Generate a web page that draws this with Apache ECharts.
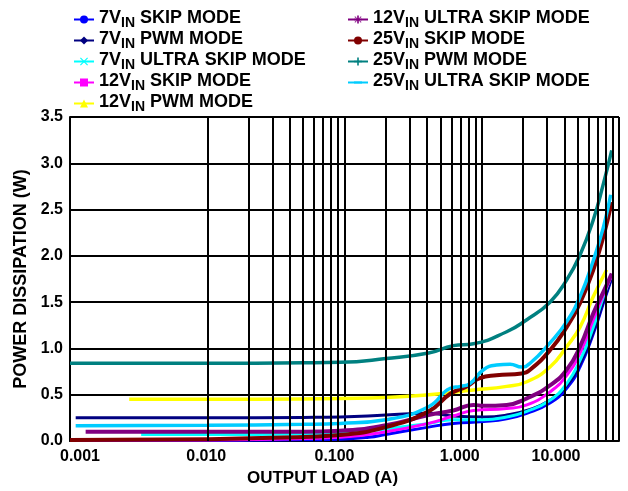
<!DOCTYPE html>
<html>
<head>
<meta charset="utf-8">
<script src="https://cdn.jsdelivr.net/npm/echarts@6/dist/echarts.min.js"></script>
<style>
  html, body { margin: 0; padding: 0; background: #fff; }
  #chart { width: 628px; height: 491px; }
</style>
</head>
<body>
<div id="chart"></div>
<script>
// series names (legend order)
const names = [
  '7VIN SKIP MODE', '7VIN PWM MODE', '7VIN ULTRA SKIP MODE',
  '12VIN SKIP MODE', '12VIN PWM MODE', '12VIN ULTRA SKIP MODE',
  '25VIN SKIP MODE', '25VIN PWM MODE', '25VIN ULTRA SKIP MODE'
];

// [load A, power W]
const skip7 = [[0.001,0.005],[0.01,0.008],[0.03,0.012],[0.093,0.02],[0.15,0.04],[0.2,0.07],[0.41,0.15],[0.62,0.19],[1.03,0.21],[1.52,0.24],[2.13,0.30],[3.14,0.41],[4.16,0.57],[5.2,0.80],[6.5,1.16],[7.7,1.49],[8.85,1.76]];
const pwm7 = [[0.0011,0.25],[0.01,0.25],[0.05,0.255],[0.093,0.26],[0.2,0.28],[0.41,0.30],[0.62,0.27],[1.03,0.26],[1.52,0.28],[2.13,0.33],[3.14,0.44],[4.16,0.60],[5.2,0.83],[6.5,1.18],[7.7,1.51],[8.85,1.77]];
const ultra7 = [[0.0033,0.07],[0.01,0.07],[0.05,0.075],[0.093,0.085],[0.2,0.13],[0.41,0.19],[0.62,0.23],[1.03,0.23],[1.52,0.26],[2.13,0.32],[3.14,0.44],[4.16,0.62],[5.2,0.87],[6.5,1.23],[7.7,1.56],[8.7,1.77]];
const skip12 = [[0.001,0.01],[0.01,0.012],[0.03,0.02],[0.093,0.04],[0.2,0.10],[0.41,0.19],[0.62,0.27],[0.87,0.33],[1.52,0.35],[2.13,0.39],[3.14,0.53],[4.16,0.71],[5.2,0.95],[6.5,1.31],[7.7,1.58],[8.85,1.79]];
const pwm12 = [[0.0027,0.45],[0.01,0.45],[0.05,0.455],[0.093,0.46],[0.2,0.47],[0.41,0.50],[0.87,0.55],[1.52,0.59],[2.13,0.64],[3.14,0.80],[4.16,1.02],[5.2,1.23],[6.5,1.56],[8.13,1.85]];
const ultra12 = [[0.0013,0.10],[0.01,0.10],[0.05,0.10],[0.093,0.11],[0.2,0.17],[0.41,0.28],[0.62,0.33],[0.87,0.39],[1.03,0.38],[1.52,0.39],[2.13,0.46],[3.14,0.60],[4.16,0.77],[5.2,1.02],[6.5,1.38],[7.7,1.61],[8.85,1.81]];
const skip25 = [[0.001,0.01],[0.01,0.02],[0.03,0.035],[0.093,0.065],[0.2,0.15],[0.41,0.32],[0.59,0.51],[0.78,0.59],[0.97,0.68],[1.28,0.71],[1.95,0.73],[2.25,0.77],[3.14,0.98],[4.16,1.23],[5.2,1.49],[6.5,1.85],[7.7,2.21],[8.85,2.58]];
const pwm25 = [[0.001,0.84],[0.01,0.84],[0.05,0.845],[0.093,0.85],[0.2,0.89],[0.41,0.95],[0.62,1.03],[0.87,1.05],[1.52,1.18],[2.13,1.31],[3.14,1.50],[4.16,1.74],[5.2,2.01],[6.5,2.39],[7.7,2.78],[8.85,3.14]];
const ultra25 = [[0.0011,0.165],[0.01,0.17],[0.05,0.18],[0.093,0.19],[0.2,0.23],[0.41,0.37],[0.59,0.57],[0.7,0.59],[0.82,0.62],[1.03,0.77],[1.28,0.82],[1.61,0.83],[1.95,0.80],[2.25,0.84],[3.14,1.06],[4.16,1.29],[5.2,1.56],[6.5,1.95],[7.7,2.31],[8.7,2.66]];

const seriesData = [skip7, pwm7, ultra7, skip12, pwm12, ultra12, skip25, pwm25, ultra25];

// minor log grid lines
const decades = [0.001, 0.01, 0.1, 1];
const minorSteps = [2, 3, 4, 5, 6, 7, 8, 9];

const colors = ['#0000ff', '#000080', '#00ffff', '#ff00ff', '#ffff00', '#800080', '#800000', '#008080', '#00ccff'];
const widths = [3, 3, 3, 3, 3.5, 4, 4, 3.5, 3.5];
const symbols = [
  'circle',
  'diamond',
  'path://M1,0L5,4L9,0L10,1L6,5L10,9L9,10L5,6L1,10L0,9L4,5L0,1Z',
  'rect',
  'triangle',
  'path://M4,0H6V3.6L8.6,1L9.4,1.8L6.4,4H10V6H6.4L9.4,8.2L8.6,9L6,6.4V10H4V6.4L1.4,9L0.6,8.2L3.6,6H0V4H3.6L0.6,1.8L1.4,1L4,3.6Z',
  'circle',
  'path://M4,0H6V4H10V6H6V10H4V6H0V4H4Z',
  'path://M0,0L0.01,0L0,0.01Z M0,3.8H10V6.2H0Z M10,10L9.99,10L10,9.99Z'
];

const font = '"Liberation Sans", Arial, sans-serif';
const labelShift = [10, -1, -10, -22, -63];

const tickRich = {};
labelShift.forEach((s, i) => {
  tickRich['t' + i] = {
    fontSize: 16, fontWeight: 'bold', fontFamily: font, color: '#000',
    padding: s > 0 ? [0, 0, 0, 2 * s] : [0, -2 * s, 0, 0]
  };
});

const legendText = {
  rich: {
    m: { fontSize: 18, fontWeight: 'bold', fontFamily: font, color: '#000', lineHeight: 15, verticalAlign: 'top' },
    s: { fontSize: 14, fontWeight: 'bold', fontFamily: font, color: '#000', lineHeight: 13, verticalAlign: 'bottom' },
    h: { fontSize: 18, fontFamily: font, lineHeight: 21 }
  }
};
const legendFormat = name => {
  const parts = name.split(' ');
  return '{m|' + parts[0].replace('VIN', 'V') + '}{s|IN}{m| ' + parts.slice(1).join(' ') + '}{h| }';
};
const legendBase = {
  orient: 'vertical', top: 9, padding: 0, itemGap: 0,
  itemWidth: 20, itemHeight: 10, selectedMode: false,
  formatter: legendFormat, textStyle: legendText
};

const chart = echarts.init(document.getElementById('chart'));

const series = names.map((n, i) => ({
  name: n,
  type: 'line',
  data: seriesData[i],
  smooth: 0.5,
  showSymbol: false,
  symbol: symbols[i],
  z: 3,
  color: colors[i],
  lineStyle: { color: colors[i], width: widths[i] }
}));

series.unshift({
  type: 'line',
  data: [],
  silent: true,
  z: 1,
  markLine: {
    silent: true,
    animation: false,
    symbol: ['none', 'none'],
    label: { show: false },
    lineStyle: { color: '#000', width: 2, type: 'solid' },
    data: decades.flatMap(d => minorSteps.map(m => ({ xAxis: d * m })))
  }
});

chart.setOption({
  animation: false,
  backgroundColor: '#fff',
  legend: [
    Object.assign({ data: names.slice(0, 5), left: 73 }, legendBase),
    Object.assign({ data: names.slice(5), left: 347 }, legendBase)
  ],
  grid: { left: 70, right: 9, top: 117, bottom: 50, outerBoundsMode: 'none' },
  xAxis: {
    type: 'log',
    logBase: 10,
    min: 0.001,
    max: 10,
    name: 'OUTPUT LOAD (A)',
    nameLocation: 'middle',
    nameGap: 29,
    nameTextStyle: { fontSize: 17, fontWeight: 'bold', fontFamily: font, color: '#000', padding: [0, 44, 0, 0] },
    axisLine: { lineStyle: { color: '#000', width: 2 } },
    axisTick: { show: false },
    minorTick: { show: false },
    splitLine: { show: true, lineStyle: { color: '#000', width: 2 } },
    axisLabel: {
      margin: 8,
      showMinLabel: true,
      showMaxLabel: true,
      hideOverlap: false,
      formatter: v => '{t' + (Math.round(Math.log10(v)) + 3) + '|' + v.toFixed(3) + '}',
      rich: tickRich
    }
  },
  yAxis: {
    type: 'value',
    min: 0,
    max: 3.5,
    interval: 0.5,
    name: 'POWER DISSIPATION (W)',
    nameLocation: 'middle',
    nameGap: 40,
    nameTextStyle: { fontSize: 18, fontWeight: 'bold', fontFamily: font, color: '#000' },
    axisLine: { show: true, lineStyle: { color: '#000', width: 2 } },
    axisTick: { show: false },
    splitLine: { show: true, lineStyle: { color: '#000', width: 2 } },
    axisLabel: {
      margin: 7,
      fontSize: 16, fontWeight: 'bold', fontFamily: font, color: '#000',
      formatter: v => v.toFixed(1)
    }
  },
  series: series
});
</script>
</body>
</html>
